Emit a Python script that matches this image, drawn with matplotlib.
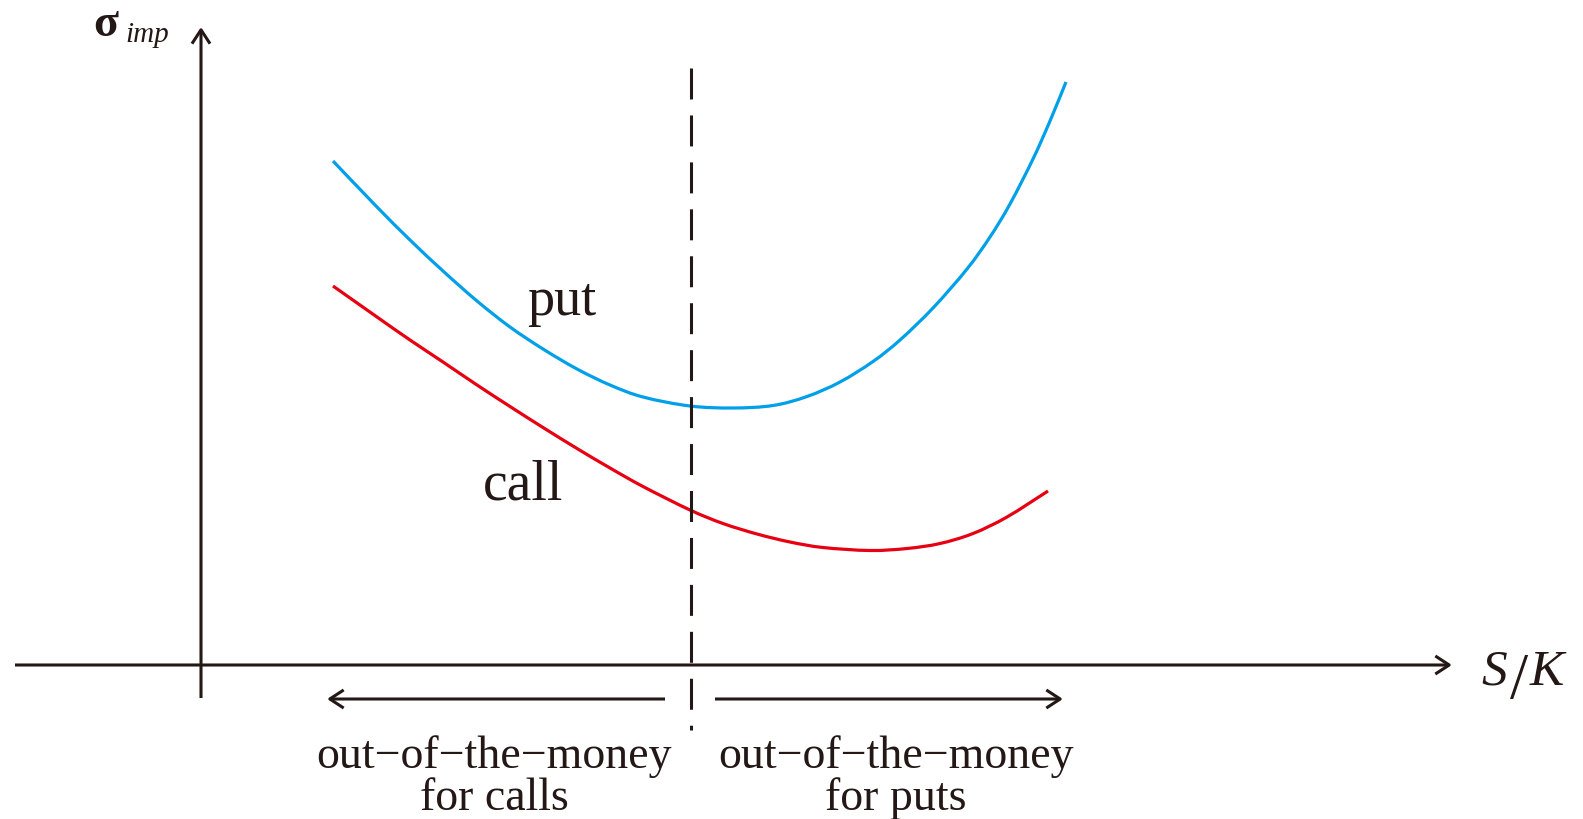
import matplotlib
matplotlib.use("Agg")
import matplotlib.pyplot as plt
from matplotlib.patches import FancyArrowPatch, PathPatch
from matplotlib.path import Path

plt.rcParams['font.family'] = ['Liberation Serif', 'DejaVu Serif']
plt.rcParams['lines.scale_dashes'] = False

INK = '#231815'
BLUE = '#00a0e9'
RED = '#e60012'

# smile curves (moneyness on x, implied vol on y, arbitrary units)
put_x = [132, 176, 209, 242, 276, 309, 342, 376, 409, 442, 489, 532, 572, 606,
         639, 672, 699, 732, 766, 789, 809, 832, 849, 865]
put_y = [504, 458, 425, 394, 364, 338, 316, 296, 280, 268, 259, 257, 259.5, 268.5,
         283, 303.5, 325, 357, 396, 428, 461, 506, 544, 583]

call_x = [132, 176, 209, 242, 276, 309, 342, 376, 409, 442, 489, 522, 556, 589,
          622, 669, 706, 739, 772, 806, 847]
call_y = [379, 348, 325, 303, 280, 258.5, 237.5, 216.5, 197, 178.5, 155, 141.5,
          131, 123, 117.5, 114.5, 116.5, 121.5, 131.5, 148, 174]

atm_x = 490          # at-the-money line
atm_span = [597, -65]

fig = plt.figure(figsize=(15.83, 8.20), dpi=100)
ax = fig.add_axes([0, 0, 1, 1])
ax.set_xlim(-201, 1382)
ax.set_ylim(-154, 666)
ax.axis('off')


def arrow(x0, y0, x1, y1):
    a = FancyArrowPatch((x0, y0), (x1, y1),
                        arrowstyle='->,head_length=10,head_width=6.5',
                        mutation_scale=1, lw=2.2, color=INK,
                        shrinkA=0, shrinkB=0, capstyle='butt')
    ax.add_patch(a)


def smooth_curve(xs, ys, color):
    # Catmull-Rom through the points, drawn as cubic Bezier segments
    pts = list(zip(xs, ys))
    n = len(pts)
    verts = [pts[0]]
    codes = [Path.MOVETO]
    for i in range(n - 1):
        p0 = pts[i - 1] if i > 0 else pts[i]
        p1, p2 = pts[i], pts[i + 1]
        p3 = pts[i + 2] if i + 2 < n else pts[i + 1]
        c1 = (p1[0] + (p2[0] - p0[0]) / 6, p1[1] + (p2[1] - p0[1]) / 6)
        c2 = (p2[0] - (p3[0] - p1[0]) / 6, p2[1] - (p3[1] - p1[1]) / 6)
        verts += [c1, c2, p2]
        codes += [Path.CURVE4] * 3
    ax.add_patch(PathPatch(Path(verts, codes), fill=False, edgecolor=color,
                           lw=2.3, capstyle='butt'))


# axes with arrow heads
arrow(-186, 0, 1251, 0)
arrow(0, -33, 0, 638)

# curves
smooth_curve(put_x, put_y, BLUE)
smooth_curve(call_x, call_y, RED)

# dashed at-the-money line
ax.plot([atm_x, atm_x], atm_span, color=INK, lw=2.2,
        dashes=(22.3, 11.5), dash_capstyle='butt')

# region arrows below the axis
arrow(464, -34, 126, -34)
arrow(514, -34, 862, -34)

# labels
ax.text(361, 351, 'put', fontsize=39, color=INK, ha='center', va='baseline')
ax.text(322, 166, 'call', fontsize=40, color=INK, ha='center', va='baseline')

ax.text(293, -102, 'out\u2212of\u2212the\u2212money', fontsize=33, color=INK,
        ha='center', va='baseline')
ax.text(293, -144, 'for calls', fontsize=33, color=INK,
        ha='center', va='baseline')
ax.text(695, -102, 'out\u2212of\u2212the\u2212money', fontsize=33, color=INK,
        ha='center', va='baseline')
ax.text(695, -144, 'for puts', fontsize=33, color=INK,
        ha='center', va='baseline')

ax.text(-108, 630, '\u03c3', fontsize=33, fontweight='bold', color=INK,
        ha='left', va='baseline')
ax.text(-76, 624, 'imp', fontsize=21, color=INK, style='italic',
        ha='left', va='baseline')

ax.text(1280, -19, 'S', fontsize=37, color=INK, style='italic',
        ha='left', va='baseline')
ax.text(1318, -32, '/', fontsize=47, color=INK, ha='center', va='baseline')
ax.text(1329, -19, 'K', fontsize=37, color=INK, style='italic',
        ha='left', va='baseline')

fig.savefig('out.png', dpi=100)
